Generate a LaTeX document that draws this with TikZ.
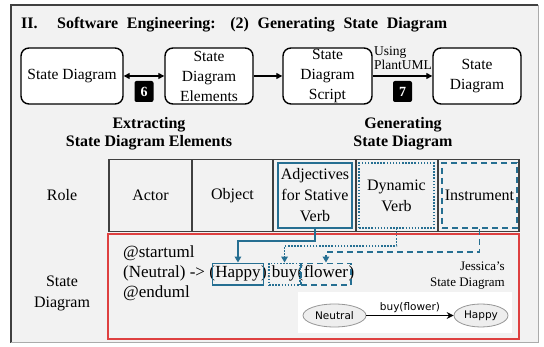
\documentclass[tikz,border=0pt]{standalone}
\usepackage{fontspec}
\setmainfont{Liberation Serif}
\newfontfamily\umlfont{DejaVu Sans}
\usetikzlibrary{arrows.meta,shapes.geometric,fit}

\definecolor{panelgray}{RGB}{242,242,242}
\definecolor{roleblue}{RGB}{38,111,146}
\definecolor{boxred}{RGB}{222,64,64}
\definecolor{gridgray}{RGB}{64,64,64}
\definecolor{umlfill}{RGB}{238,238,238}
\definecolor{umledge}{RGB}{150,150,150}

\newcommand\fsz[2]{\fontsize{#1}{#2}\selectfont}

\begin{document}
\begin{tikzpicture}[x=1pt,y=-1pt,
  procbox/.style={draw=black, line width=1.4pt, rounded corners=8pt, fill=white,
    minimum height=56pt, inner sep=0pt, align=center, font=\fsz{15.5}{20}},
  flowarrow/.style={line width=1.3pt, -{Triangle[length=6pt,width=6pt]}},
  badge/.style={fill=black, rounded corners=2pt, minimum width=19pt, minimum height=21pt,
    inner sep=0pt, text=white, font=\bfseries\fsz{14}{16}},
  steplabel/.style={align=center, font=\bfseries\fsz{16}{18}},
  cell/.style={draw=gridgray, line width=1.2pt, fill=panelgray, minimum height=72.5pt,
    inner sep=0pt, align=center, font=\fsz{16}{21}},
  rolebox/.style={line width=1.6pt, draw=roleblue, minimum width=74pt, minimum height=65pt,
    inner sep=0pt, align=center, font=\fsz{16}{21}},
  dotline/.style={dash pattern=on 1.5pt off 1.6pt},
  dashline/.style={dash pattern=on 6pt off 4pt},
  scr/.style={anchor=base west, inner sep=0pt, font=\fsz{17}{20}, text height=11pt, text depth=3.5pt},
  hlbox/.style={draw=roleblue, line width=1.5pt, inner xsep=2.5pt, inner ysep=3.5pt},
  linkarrow/.style={draw=roleblue, line width=1.5pt, -{Triangle[length=6pt,width=6.5pt]}},
  umlstate/.style={ellipse, draw=umledge, fill=umlfill, line width=0.8pt, inner sep=0pt,
    minimum height=23pt, font=\umlfont\fsz{10.5}{12}},
]
\useasboundingbox (0,0) rectangle (544,347);

% panel
\fill[panelgray] (11,5) rectangle (538,343);
\draw[gridgray, line width=1.5pt] (11,343) -- (11,5) -- (538,5);
\draw[umledge!80, line width=1pt] (538,5) -- (538,343) -- (11,343);

% title
\node[anchor=base west, inner sep=0pt, font=\bfseries\fsz{16}{18}] (tnum) at (21,29) {II.};
\node[anchor=base west, inner sep=0pt, font=\bfseries\fsz{16}{18}] (ttl) at (57,29)
  {\makebox[390pt][s]{Software Engineering: (2) Generating State Diagram}};

% process row
\node[procbox, minimum width=102pt] (sd) at (72,76) {State Diagram};
\node[procbox, minimum width=88pt] (sde) at (209,76) {State\\Diagram\\Elements};
\node[procbox, minimum width=89pt] (sds) at (327.5,76) {State\\Diagram\\Script};
\node[procbox, minimum width=88pt] (out) at (477,76) {State\\Diagram};

\draw[flowarrow, {Triangle[length=6pt,width=6pt]}-{Triangle[length=6pt,width=6pt]}] (sd) -- (sde);
\draw[flowarrow] (sde) -- (sds);
\draw[flowarrow] (sds) -- (out);

\node[anchor=base west, inner sep=0pt, align=left, font=\fsz{13.5}{14.5}] (tool) at (374,70)
  {Using\\PlantUML};

\node[badge] (b6) at (144,91.5) {6};
\node[badge] (b7) at (402.5,91.5) {7};

\node[steplabel] (ext) at (149,134) {Extracting\\State Diagram Elements};
\node[steplabel] (gen) at (403,134) {Generating\\State Diagram};

% role table
\node[font=\fsz{16}{21}] (rolelbl) at (62,195.5) {Role};
\node[cell, minimum width=83pt] (c1) at (150.5,195.5) {Actor};
\node[cell, minimum width=81pt] (c2) at (232.5,195.5) {Object};
\node[cell, minimum width=83pt] (c3) at (314.5,195.5) {};
\node[cell, minimum width=82pt] (c4) at (397,195.5) {};
\node[cell, minimum width=81pt] (c5) at (478.5,195.5) {};

\node[rolebox] (adj) at (315,195.5) {Adjectives\\for Stative\\Verb};
\node[rolebox, dotline, minimum width=75pt] (dyn) at (396.5,195.5) {Dynamic\\Verb};
\node[rolebox, dashline, minimum width=75pt] (ins) at (479.5,195.5) {Instrument};

% state diagram row
\node[font=\fsz{16}{21}, align=center] (sdlbl) at (62,293.5) {State\\Diagram};
\draw[boxred, line width=1.1pt] (108,234) rectangle (519,339);

\node[scr] (l1) at (123,258) {@startuml};
\node[scr] (l2a) at (123,278) {(Neutral) -> (};
\node[scr] (wh) at (l2a.base east) {Happy};
\node[scr] (l2b) at (wh.base east) {):\hspace{3pt}};
\node[scr] (wb) at (l2b.base east) {buy};
\node[scr] (l2c) at (wb.base east) {(};
\node[scr] (wf) at (l2c.base east) {flower};
\node[scr] (l2d) at (wf.base east) {)};
\node[scr] (l3) at (123,298) {@enduml};

\node[hlbox, fit=(wh)] (hb) {};
\node[hlbox, dotline, fit=(wb)] (bb) {};
\node[hlbox, dashline, fit=(wf)] (fb) {};

\draw[linkarrow] (adj.south) -- ++(0,12) -| (hb.north);
\draw[linkarrow, dotline] (dyn.south) -- ++(0,17) -| (bb.north);
\draw[linkarrow, dashline] (ins.south) -- ++(0,23) -| (fb.north);

% rendered state diagram
\node[anchor=base east, inner sep=0pt, align=right, font=\fsz{13}{16}] (jes) at (505,287)
  {Jessica's\\State Diagram};
\fill[white] (298,292) rectangle (512,333);
\node[umlstate, minimum width=63pt] (neu) at (334.5,315.5) {Neutral};
\node[umlstate, minimum width=54pt] (hap) at (481,315.5) {Happy};
\draw[line width=0.8pt, -{Stealth[length=7pt,width=7pt,inset=2.5pt]}] (neu) -- (hap)
  node[midway, above=1pt, font=\umlfont\fsz{10.5}{12}, inner sep=1pt] (trans) {buy(flower)};
\end{tikzpicture}
\end{document}
